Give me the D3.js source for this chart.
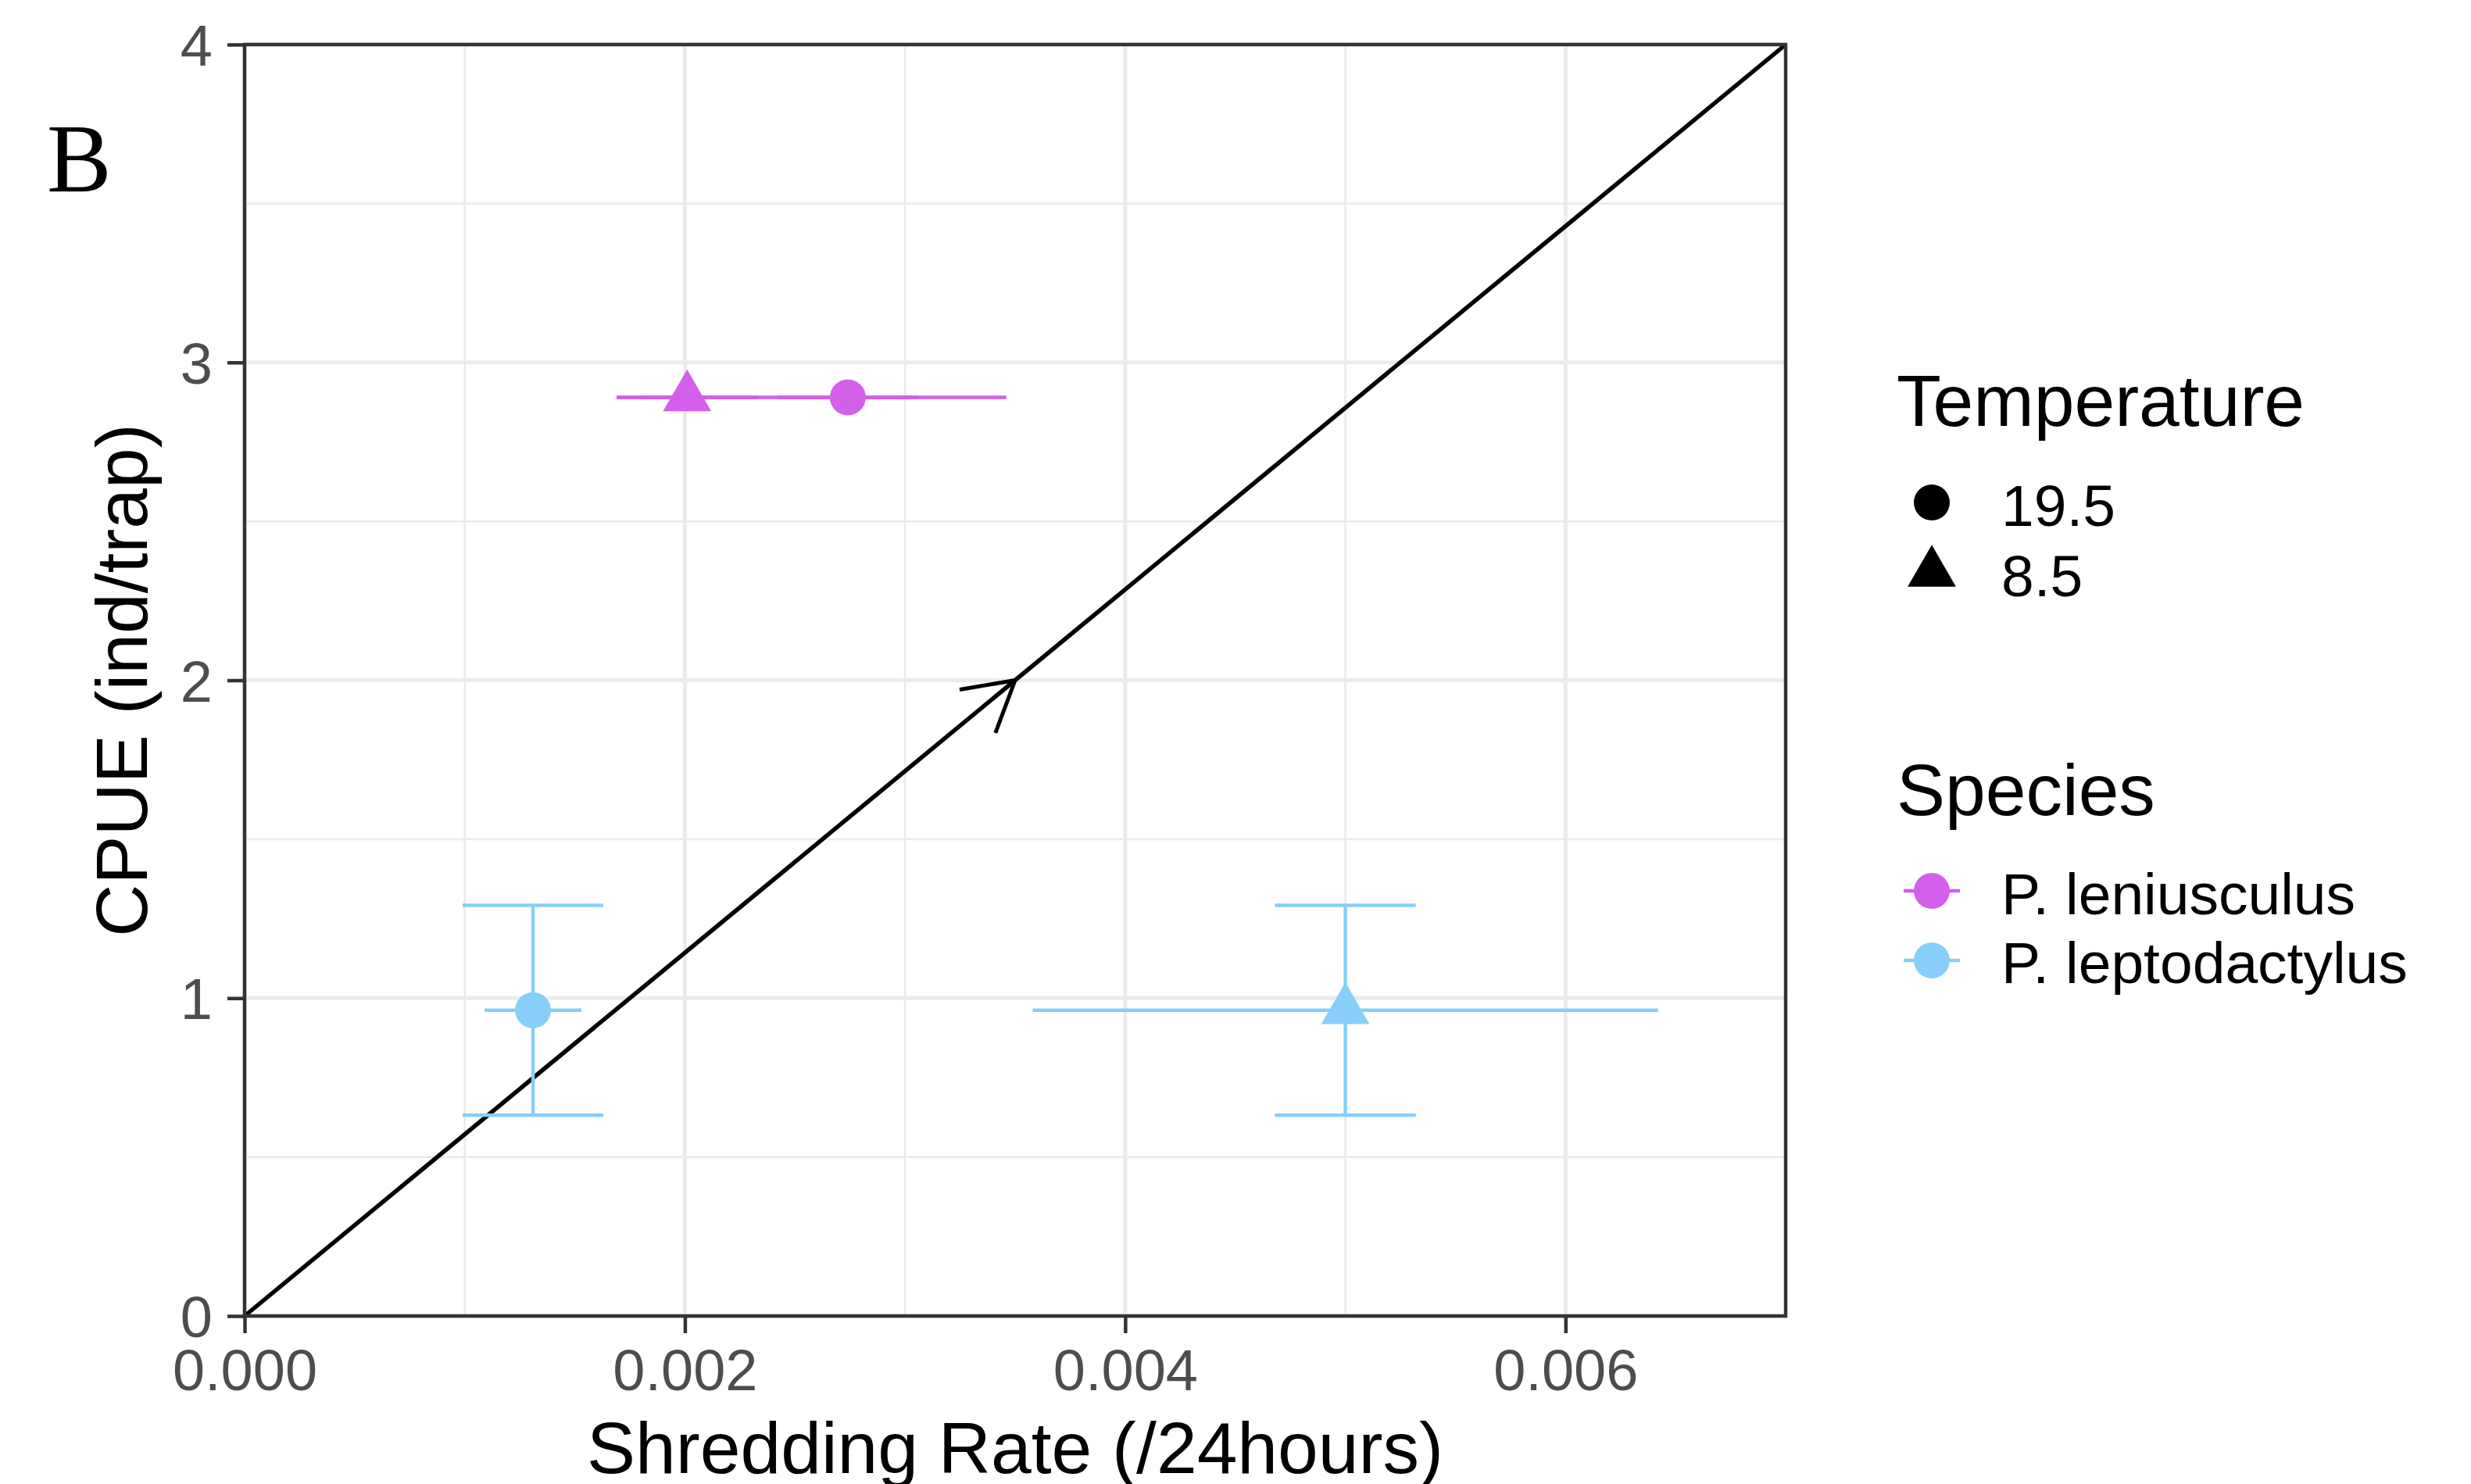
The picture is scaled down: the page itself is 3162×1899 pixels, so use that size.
<!DOCTYPE html>
<html>
<head>
<meta charset="utf-8">
<script src="https://cdn.jsdelivr.net/npm/d3@7"></script>
<style>
  body { margin: 0; background: #fff; }
  svg { display: block; }
</style>
</head>
<body>
<div id="chart-area"></div>
<script>
const WIDTH = 3162;
const HEIGHT = 1899;
const panel = {left: 313, right: 2285, top: 57, bottom: 1684};

// data
const species = ["P. leniusculus", "P. leniusculus", "P. leptodactylus", "P. leptodactylus"];
const temperature = ["8.5", "19.5", "8.5", "19.5"];
const shredRate = [0.00201, 0.00274, 0.00500, 0.00131];
const shredErr = [0.0002, 0.00072, 0.00142, 0.00022];
const cpue = [2.89, 2.89, 0.962, 0.962];
const cpueErr = [0, 0, 0.33, 0.33];
const capWidth = 0.00064;

const speciesNames = ["P. leniusculus", "P. leptodactylus"];
const speciesColors = ["#D35FEB", "#87CEFA"];
const tempLevels = ["19.5", "8.5"];

const xTicks = [0, 0.002, 0.004, 0.006];
const xMinor = [0.001, 0.003, 0.005];
const yTicks = [0, 1, 2, 3, 4];
const yMinor = [0.5, 1.5, 2.5, 3.5];

const diagX = [0, 0.007];
const diagY = [0, 4];
const arrowAt = [0.0035, 2];

const data = species.map((s, i) => ({
    species: s, temp: temperature[i],
    x: shredRate[i], xe: shredErr[i],
    y: cpue[i], ye: cpueErr[i]
}));

const x = d3.scaleLinear().domain([0, 0.007]).range([panel.left, panel.right]);
const y = d3.scaleLinear().domain([0, 4]).range([panel.bottom, panel.top]);
const color = d3.scaleOrdinal().domain(speciesNames).range(speciesColors);

const FONT = "'Liberation Sans', Arial, Helvetica, sans-serif";

const svg = d3.select('#chart-area').append('svg')
    .attr("width", WIDTH)
    .attr("height", HEIGHT)
    .style("font-family", FONT);

svg.append("rect").attr("width", WIDTH).attr("height", HEIGHT).attr("fill", "#fff");

// point shapes (R pch 19 / 17 style)
const R_CIRCLE = 23;
function triangle(r) {
    const h = r * Math.sqrt(3) / 2;
    return `M0,${-r}L${h},${r / 2}L${-h},${r / 2}Z`;
}
function drawShape(g, temp, fill, r) {
    if (temp === "19.5") {
        g.append("circle").attr("r", r).attr("fill", fill);
    } else {
        g.append("path").attr("d", triangle(r * 1.55)).attr("fill", fill);
    }
}

// grid
const grid = svg.append("g");
grid.selectAll(".xminor").data(xMinor).join("line")
    .attr("x1", d => x(d)).attr("x2", d => x(d))
    .attr("y1", panel.top).attr("y2", panel.bottom)
    .attr("stroke", "#EBEBEB").attr("stroke-width", 2.5);
grid.selectAll(".yminor").data(yMinor).join("line")
    .attr("y1", d => y(d)).attr("y2", d => y(d))
    .attr("x1", panel.left).attr("x2", panel.right)
    .attr("stroke", "#EBEBEB").attr("stroke-width", 2.5);
grid.selectAll(".xmajor").data(xTicks).join("line")
    .attr("x1", d => x(d)).attr("x2", d => x(d))
    .attr("y1", panel.top).attr("y2", panel.bottom)
    .attr("stroke", "#EBEBEB").attr("stroke-width", 5);
grid.selectAll(".ymajor").data(yTicks).join("line")
    .attr("y1", d => y(d)).attr("y2", d => y(d))
    .attr("x1", panel.left).attr("x2", panel.right)
    .attr("stroke", "#EBEBEB").attr("stroke-width", 5);

// diagonal with arrow at the middle
const line = d3.line().x(d => x(d[0])).y(d => y(d[1]));
svg.append("path")
    .attr("d", line(d3.zip(diagX, diagY)))
    .attr("fill", "none").attr("stroke", "#000").attr("stroke-width", 5.5);

const tipX = x(arrowAt[0]), tipY = y(arrowAt[1]);
const back = Math.atan2(y(diagY[0]) - y(diagY[1]), x(diagX[0]) - x(diagX[1]));
const armLen = 72;
const arms = [back - Math.PI / 6, back + Math.PI / 6];
svg.append("path")
    .attr("d", `M${tipX + armLen * Math.cos(arms[0])},${tipY + armLen * Math.sin(arms[0])}` +
        `L${tipX},${tipY}` +
        `L${tipX + armLen * Math.cos(arms[1])},${tipY + armLen * Math.sin(arms[1])}`)
    .attr("fill", "none").attr("stroke", "#000").attr("stroke-width", 5)
    .attr("stroke-linejoin", "miter");

// error bars
const eb = svg.append("g").attr("stroke-width", 4.5).attr("fill", "none");
data.forEach(d => {
    const c = color(d.species);
    // horizontal
    eb.append("line")
        .attr("x1", x(d.x - d.xe)).attr("x2", x(d.x + d.xe))
        .attr("y1", y(d.y)).attr("y2", y(d.y)).attr("stroke", c);
    // vertical with caps
    eb.append("line")
        .attr("x1", x(d.x)).attr("x2", x(d.x))
        .attr("y1", y(d.y - d.ye)).attr("y2", y(d.y + d.ye)).attr("stroke", c);
    [d.y - d.ye, d.y + d.ye].forEach(v => {
        eb.append("line")
            .attr("x1", x(d.x - capWidth / 2)).attr("x2", x(d.x + capWidth / 2))
            .attr("y1", y(v)).attr("y2", y(v)).attr("stroke", c);
    });
});

// points
const pts = svg.append("g").selectAll("g").data(data).join("g")
    .attr("transform", d => `translate(${x(d.x)},${y(d.y)})`);
pts.each(function (d) {
    drawShape(d3.select(this), d.temp, color(d.species), R_CIRCLE);
});

// panel border
svg.append("rect")
    .attr("x", panel.left).attr("y", panel.top)
    .attr("width", panel.right - panel.left).attr("height", panel.bottom - panel.top)
    .attr("fill", "none").attr("stroke", "#333333").attr("stroke-width", 4.5);

// axes
const TICK = 22;
const xAxis = svg.append("g")
    .attr("transform", `translate(0,${panel.bottom})`)
    .call(d3.axisBottom(x).tickValues(xTicks).tickFormat(d3.format(".3f"))
        .tickSize(TICK).tickPadding(20));
const yAxis = svg.append("g")
    .attr("transform", `translate(${panel.left},0)`)
    .call(d3.axisLeft(y).tickValues(yTicks).tickFormat(d3.format("d"))
        .tickSize(TICK).tickPadding(19));
[xAxis, yAxis].forEach(a => {
    a.select(".domain").remove();
    a.selectAll(".tick line").attr("stroke", "#333333").attr("stroke-width", 4.5);
    a.selectAll(".tick text")
        .attr("fill", "#4D4D4D")
        .style("font-family", FONT)
        .style("font-size", "74px");
});
xAxis.selectAll(".tick text").attr("dy", "0.71em");
yAxis.selectAll(".tick text").attr("dy", "0.36em");

// axis titles
svg.append("text")
    .attr("x", (panel.left + panel.right) / 2).attr("y", 1885)
    .attr("text-anchor", "middle")
    .style("font-size", "93px").attr("fill", "#000")
    .text("Shredding Rate (/24hours)");
svg.append("text")
    .attr("transform", `translate(188,${(panel.top + panel.bottom) / 2}) rotate(-90)`)
    .attr("text-anchor", "middle")
    .style("font-size", "93px").attr("fill", "#000")
    .text("CPUE (ind/trap)");

// panel label
svg.append("text")
    .attr("x", 60).attr("y", 245)
    .style("font-family", "'Liberation Serif', 'DejaVu Serif', serif")
    .style("font-size", "124px").attr("fill", "#000")
    .text("B");

// legends
const KEY_X = 2472, LABEL_X = 2561, TITLE_X = 2427;
svg.append("text").attr("x", TITLE_X).attr("y", 545)
    .style("font-size", "93px").text("Temperature");
const tempKeyY = [643, 733];
const tempLabelY = [673, 763];
tempLevels.forEach((t, i) => {
    const g = svg.append("g").attr("transform", `translate(${KEY_X},${tempKeyY[i]})`);
    drawShape(g, t, "#000", R_CIRCLE);
    svg.append("text").attr("x", LABEL_X).attr("y", tempLabelY[i])
        .style("font-size", "75px").text(t);
});

svg.append("text").attr("x", TITLE_X).attr("y", 1043)
    .style("font-size", "93px").text("Species");
const spKeyY = [1140, 1229];
const spLabelY = [1170, 1258];
speciesNames.forEach((s, i) => {
    const g = svg.append("g").attr("transform", `translate(${KEY_X},${spKeyY[i]})`);
    g.append("line").attr("x1", -36).attr("x2", 36)
        .attr("stroke", color(s)).attr("stroke-width", 4.5);
    g.append("circle").attr("r", R_CIRCLE).attr("fill", color(s));
    svg.append("text").attr("x", LABEL_X).attr("y", spLabelY[i])
        .style("font-size", "75px").text(s);
});
</script>
</body>
</html>
